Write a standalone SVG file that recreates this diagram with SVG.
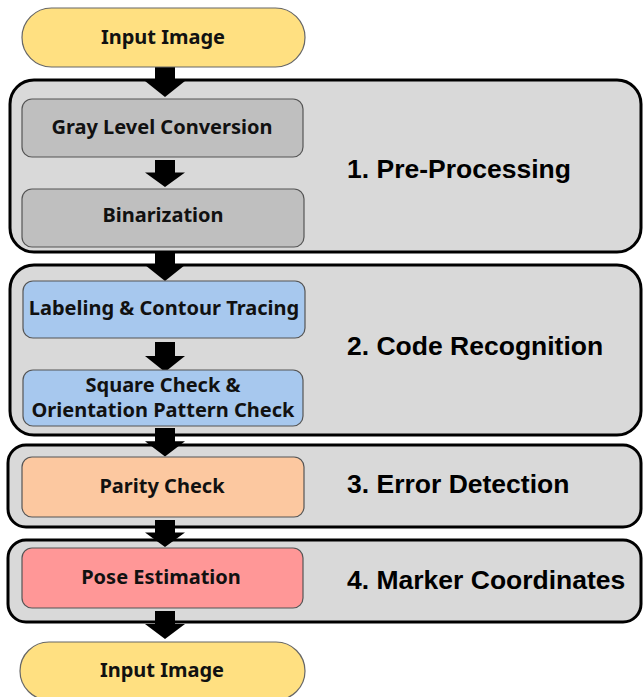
<svg xmlns="http://www.w3.org/2000/svg" width="643" height="697" viewBox="0 0 643 697">
  <defs>
    <!-- block arrow shape, drawn downward from its origin -->
    <path id="arrow" d="M-10,0 H10 V14 H20 L0,30 L-20,14 H-10 Z"/>
  </defs>
  <style>
    .stage { fill: #d9d9d9; stroke: #000; stroke-width: 3; }
    .box { stroke: #555; stroke-width: 1.2; }
    .pill { fill: #ffe081; stroke: #666; stroke-width: 1.2; }
    .gray { fill: #bfbfbf; }
    .blue { fill: #a7c8ee; }
    .peach { fill: #fcc8a0; }
    .pink { fill: #ff9797; }
    .lbl { font-family: "Noto Sans", "Open Sans", sans-serif; font-weight: bold; font-size: 20px; fill: #111; text-anchor: middle; }
    .head { font-family: "Liberation Sans", Arial, sans-serif; font-weight: bold; font-size: 26.5px; fill: #000; }
    .arr { fill: #000; }
  </style>

  <!-- stage containers -->
  <g id="stage1"><rect class="stage" x="10" y="80" width="631" height="172" rx="24"/><text class="head" x="347" y="178">1. Pre-Processing</text></g>
  <g id="stage2"><rect class="stage" x="10" y="265" width="631" height="170" rx="24"/><text class="head" x="347" y="355">2. Code Recognition</text></g>
  <g id="stage3"><rect class="stage" x="8" y="445" width="633" height="82" rx="18"/><text class="head" x="347" y="493">3. Error Detection</text></g>
  <g id="stage4"><rect class="stage" x="8" y="540" width="633" height="82" rx="18"/><text class="head" x="347" y="589">4. Marker Coordinates</text></g>

  <!-- connectors -->
  <g id="connectors" class="arr">
    <use href="#arrow" transform="translate(165,67)"/>
    <use href="#arrow" transform="translate(165,160) scale(1,0.9)"/>
    <use href="#arrow" transform="translate(165,251)"/>
    <use href="#arrow" transform="translate(165,342)"/>
    <use href="#arrow" transform="translate(165,428) scale(1,0.95)"/>
    <use href="#arrow" transform="translate(165,520) scale(1,0.9)"/>
    <use href="#arrow" transform="translate(165,611) scale(1,0.93)"/>
  </g>

  <g id="input-top"><rect class="pill" x="22" y="8" width="283" height="59" rx="29.5"/><text class="lbl" x="163" y="44">Input Image</text></g>
  <g id="gray-level"><rect class="box gray" x="22" y="99" width="281" height="58" rx="10"/><text class="lbl" x="162" y="134">Gray Level Conversion</text></g>
  <g id="binarization"><rect class="box gray" x="22" y="189" width="282" height="58" rx="10"/><text class="lbl" x="163" y="222">Binarization</text></g>
  <g id="labeling"><rect class="box blue" x="23" y="281" width="282" height="57" rx="10"/><text class="lbl" x="164" y="315">Labeling &amp; Contour Tracing</text></g>
  <g id="square-check"><rect class="box blue" x="23" y="370" width="280" height="56" rx="10"/><text class="lbl" x="163" y="392">Square Check &amp;</text><text class="lbl" x="163" y="417">Orientation Pattern Check</text></g>
  <g id="parity"><rect class="box peach" x="22" y="457" width="282" height="60" rx="10"/><text class="lbl" x="162" y="493">Parity Check</text></g>
  <g id="pose"><rect class="box pink" x="22" y="548" width="281" height="60" rx="10"/><text class="lbl" x="161" y="584">Pose Estimation</text></g>
  <g id="input-bottom"><rect class="pill" x="20" y="642" width="285" height="58" rx="29"/><text class="lbl" x="162" y="677">Input Image</text></g>
</svg>
